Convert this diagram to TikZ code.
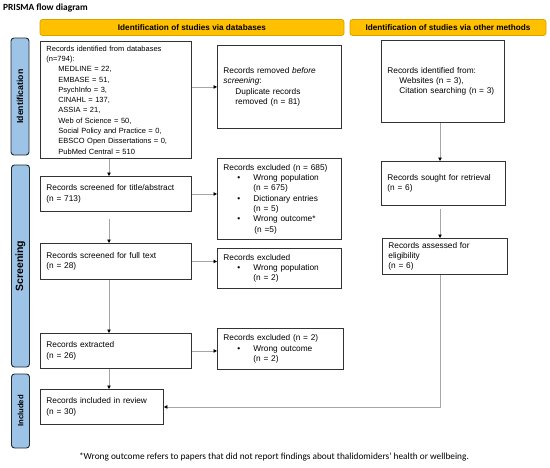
\documentclass[tikz,border=0pt]{standalone}
\usepackage{fontspec}
\setsansfont{Liberation Sans}
\newfontfamily\calibrifont{Carlito}
\usetikzlibrary{%
   arrows.meta,%
   positioning%
}
\definecolor{prismayellow}{HTML}{FFC000}
\definecolor{prismagold}{HTML}{D9A200}
\definecolor{prismablue}{HTML}{9DC3E6}
\definecolor{prismanavy}{HTML}{1F2A38}

\newcommand{\subline}[1]{\hspace*{12pt}#1}
\newcommand{\bulletline}[1]{\hspace*{14pt}\makebox[16pt][l]{\textbullet}#1}
\newcommand{\countline}[1]{\hspace*{30pt}#1}
\newcommand{\boxfont}[1]{\sffamily\fontsize{#1}{10.3}\selectfont}

\begin{document}
\begin{tikzpicture}[x=1pt,y=-1pt,recordbox/.style={
	rectangle,
	anchor=north west,
	draw=black!80,
	line width=0.9pt,
	fill=white,
	align=left,
	inner xsep=6pt,
	inner ysep=2pt,
	font=\boxfont{8.3}
	},phasehead/.style={
	rectangle,rounded corners=2.5pt,
	draw=prismagold,line width=0.7pt,fill=prismayellow,
	minimum height=16pt,inner sep=0pt,
	font=\sffamily\bfseries\fontsize{8.2}{9}\selectfont
	},stagebar/.style={
	rectangle,rounded corners=3pt,rotate=90,
	draw=prismanavy,line width=0.9pt,fill=prismablue,
	minimum height=18pt,inner sep=0pt
	},flowarrow/.style={
	draw=black!35,line width=0.8pt,
	-{Triangle[length=3.5pt,width=3.5pt,color=black]}
	}
]
\useasboundingbox (0,0) rectangle (550,467);

\node (title) [anchor=west,inner sep=0pt,font=\calibrifont\bfseries\fontsize{9.4}{11}\selectfont] at (3,8) {PRISMA flow diagram};

% headers and stages
\node (dbhead) [phasehead,minimum width=304pt] at (192,27.5) {Identification of studies via databases};
\node (otherhead) [phasehead,minimum width=196pt] at (448,27.5) {Identification of studies via other methods};
\node (identbar) [stagebar,minimum width=117pt,font=\sffamily\bfseries\fontsize{8.7}{10}\selectfont] at (20,96.5) {Identification};
\node (screenbar) [stagebar,minimum width=202pt,font=\sffamily\bfseries\fontsize{10.5}{12}\selectfont] at (20.5,266) {Screening};
\node (inclbar) [stagebar,minimum width=74pt,font=\sffamily\bfseries\fontsize{7.7}{9}\selectfont] at (20.5,411) {Included};

% Identification
\node (dbrec) [recordbox,font=\boxfont{7.5},text width=139pt,minimum height=117pt] at (40,41) {Records identified from databases\\(n=794):\\
\subline{MEDLINE = 22,}\\\subline{EMBASE = 51,}\\\subline{PsychInfo = 3,}\\\subline{CINAHL = 137,}\\\subline{ASSIA = 21,}\\
\subline{Web of Science = 50,}\\\subline{Social Policy and Practice = 0,}\\\subline{EBSCO Open Dissertations = 0,}\\\subline{PubMed Central = 510}};
\node (removed) [recordbox,text width=112pt,minimum height=83pt] at (217,45) {Records removed \textit{before}\\\textit{screening}:\\\subline{Duplicate records}\\\subline{removed (n = 81)}};
\node (otherrec) [recordbox,text width=111pt,minimum height=82pt] at (381,40) {Records identified from:\\\subline{Websites (n = 3),}\\\subline{Citation searching (n = 3)}\\[6pt]};

% Screening
\node (screened) [recordbox,text width=139pt,minimum height=35pt] at (40,176) {Records screened for title/abstract\\(n = 713)};
\node (exclone) [recordbox,text width=112pt,minimum height=81pt] at (217,158) {Records excluded (n = 685)\\\bulletline{Wrong population}\\\countline{(n = 675)}\\
\bulletline{Dictionary entries}\\\countline{(n = 5)}\\\bulletline{Wrong outcome*}\\\countline{\hspace*{1pt}(n =5)}};
\node (sought) [recordbox,text width=112pt,minimum height=44pt] at (381,161) {Records sought for retrieval\\(n = 6)};
\node (fulltext) [recordbox,text width=139pt,minimum height=36pt] at (40,243) {Records screened for full text\\(n = 28)};
\node (excltwo) [recordbox,text width=112pt,minimum height=40pt] at (217,248) {Records excluded\\\bulletline{Wrong population}\\\countline{(n = 2)}};
\node (assessed) [recordbox,text width=113pt,minimum height=36pt] at (382,238) {Records assessed for\\eligibility\\(n = 6)};
\node (extracted) [recordbox,text width=139pt,minimum height=35pt] at (40,333) {Records extracted\\(n = 26)};
\node (exclthree) [recordbox,text width=114pt,minimum height=41pt] at (217,328) {Records excluded (n = 2)\\\bulletline{Wrong outcome}\\\countline{(n = 2)}};

% Included
\node (included) [recordbox,text width=111pt,minimum height=35pt] at (40,389) {Records included in review\\(n = 30)};

\node (footnote) [inner sep=0pt,font=\calibrifont\fontsize{9.3}{11}\selectfont] at (274,457) {*Wrong outcome refers to papers that did not report findings about thalidomiders’ health or wellbeing.};

\coordinate (lspine) at (109,0);
\coordinate (rspine) at (440,0);
\draw[flowarrow] (dbrec.south -| lspine) -- (screened.north -| lspine);
\draw[flowarrow,shorten <=7pt] (screened.south -| lspine) -- (fulltext.north -| lspine);
\draw[flowarrow] (fulltext.south -| lspine) -- (extracted.north -| lspine);
\draw[flowarrow] (extracted.south -| lspine) -- (included.north -| lspine);
\draw[flowarrow] (dbrec.east |- removed.west) -- (removed.west);
\draw[flowarrow] (screened.east) -- (screened.east -| exclone.west);
\draw[flowarrow] (fulltext.east) -- (fulltext.east -| excltwo.west);
\draw[flowarrow] (extracted.east) -- (extracted.east -| exclthree.west);
\draw[flowarrow] (otherrec.south -| rspine) -- (sought.north -| rspine);
\draw[flowarrow,shorten <=3pt] (sought.south -| rspine) -- (assessed.north -| rspine);
\draw[flowarrow] (assessed.south -| rspine) |- (included.east);

\end{tikzpicture}
\end{document}
